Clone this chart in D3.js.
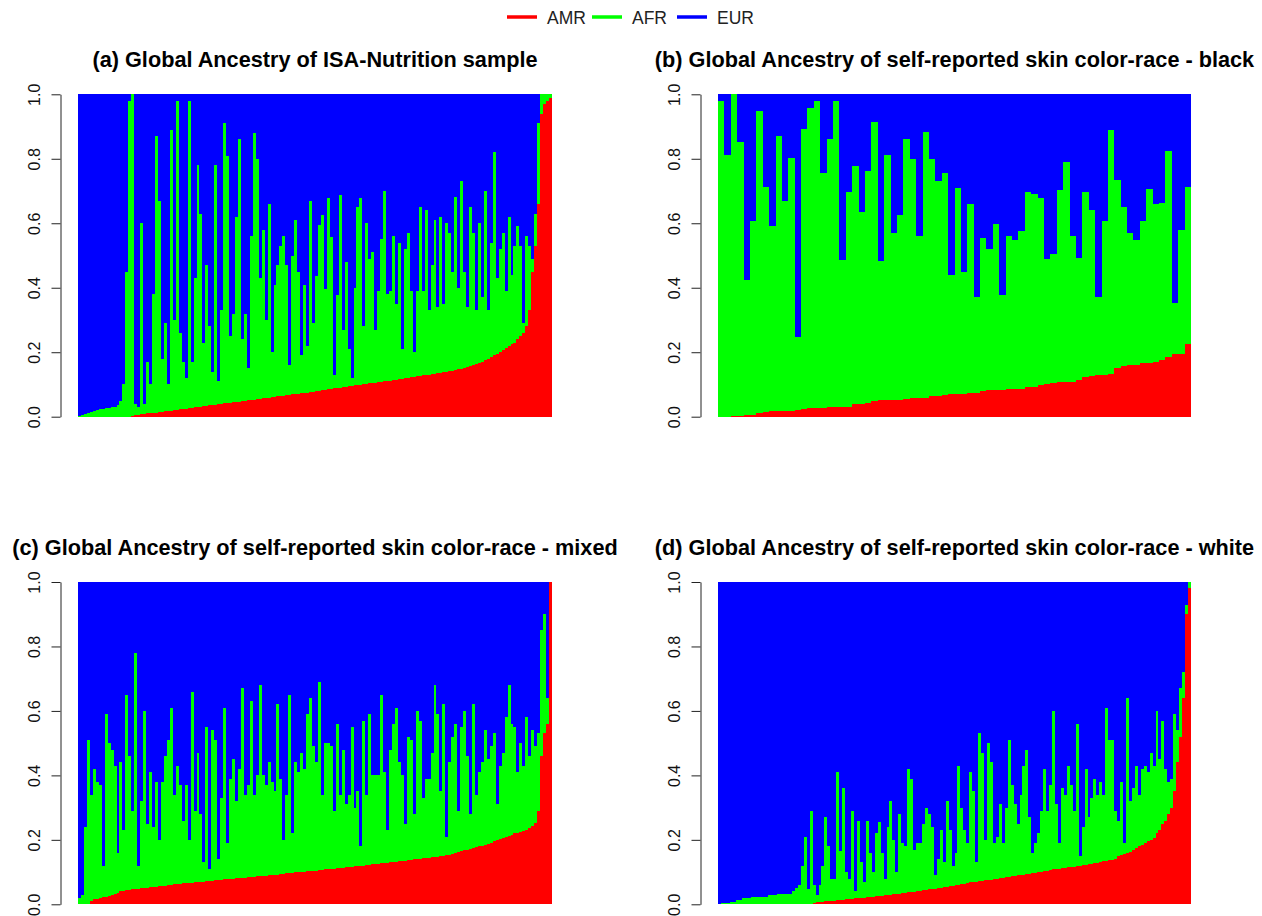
<!DOCTYPE html>
<html>
<head>
<meta charset="utf-8">
<script src="https://cdn.jsdelivr.net/npm/d3@7"></script>
<style>
  body { margin: 0; background: #fff; }
  svg { display: block; }
  text { font-family: "Liberation Sans", Arial, sans-serif; }
</style>
</head>
<body>
<div id="chart"></div>
<script>
// ancestry components, bottom to top of each bar
const ancestries = ['AMR', 'AFR', 'EUR'];
const ancestryColors = ['#ff0000', '#00ff00', '#0000ff'];
const yTicks = [0, 0.2, 0.4, 0.6, 0.8, 1.0];

// (a) whole sample, one bar per group of individuals, sorted by AMR
const amrA = [
  0, 0, 0, 0, 0, 0, 0, 0, 0, 0,
  0, 0, 0, 0, 0, 0, 0, 0, 0.003, 0.004,
  0.005, 0.007, 0.008, 0.010, 0.011, 0.012, 0.013, 0.015, 0.016, 0.017,
  0.018, 0.019, 0.020, 0.022, 0.023, 0.024, 0.025, 0.027, 0.028, 0.029,
  0.030, 0.031, 0.033, 0.034, 0.035, 0.036, 0.037, 0.039, 0.040, 0.041,
  0.042, 0.044, 0.045, 0.046, 0.047, 0.048, 0.050, 0.051, 0.052, 0.053,
  0.054, 0.056, 0.057, 0.058, 0.059, 0.060, 0.062, 0.063, 0.064, 0.065,
  0.066, 0.068, 0.069, 0.070, 0.071, 0.073, 0.074, 0.075, 0.076, 0.077,
  0.079, 0.080, 0.082, 0.084, 0.085, 0.087, 0.088, 0.089, 0.090, 0.091,
  0.093, 0.094, 0.096, 0.097, 0.098, 0.099, 0.101, 0.102, 0.104, 0.105,
  0.106, 0.108, 0.109, 0.110, 0.111, 0.112, 0.114, 0.115, 0.116, 0.118,
  0.119, 0.120, 0.122, 0.124, 0.125, 0.126, 0.128, 0.129, 0.130, 0.132,
  0.133, 0.135, 0.136, 0.138, 0.140, 0.141, 0.143, 0.145, 0.147, 0.149,
  0.151, 0.153, 0.156, 0.159, 0.163, 0.167, 0.171, 0.175, 0.180, 0.185,
  0.190, 0.195, 0.200, 0.206, 0.212, 0.218, 0.224, 0.230, 0.240, 0.250,
  0.260, 0.280, 0.330, 0.450, 0.530, 0.660, 0.940, 0.970, 0.980, 0.990
];
const afrA = [
  0.003, 0.005, 0.008, 0.011, 0.014, 0.019, 0.021, 0.023, 0.025, 0.026,
  0.028, 0.029, 0.031, 0.036, 0.050, 0.100, 0.450, 0.980, 0.997, 0.036,
  0.025, 0.593, 0.032, 0.160, 0.089, 0.368, 0.857, 0.655, 0.164, 0.273,
  0.082, 0.871, 0.280, 0.958, 0.237, 0.146, 0.095, 0.953, 0.142, 0.401,
  0.750, 0.599, 0.197, 0.436, 0.245, 0.104, 0.743, 0.071, 0.290, 0.869,
  0.768, 0.206, 0.275, 0.574, 0.813, 0.192, 0.270, 0.099, 0.508, 0.827,
  0.746, 0.374, 0.523, 0.242, 0.601, 0.140, 0.348, 0.407, 0.466, 0.495,
  0.404, 0.092, 0.431, 0.540, 0.379, 0.117, 0.336, 0.145, 0.594, 0.213,
  0.357, 0.516, 0.545, 0.313, 0.592, 0.471, 0.040, 0.289, 0.598, 0.177,
  0.386, 0.115, 0.023, 0.302, 0.551, 0.580, 0.179, 0.498, 0.386, 0.405,
  0.164, 0.282, 0.441, 0.590, 0.269, 0.278, 0.446, 0.235, 0.424, 0.092,
  0.401, 0.450, 0.268, 0.076, 0.265, 0.524, 0.262, 0.511, 0.200, 0.338,
  0.477, 0.205, 0.484, 0.212, 0.460, 0.429, 0.307, 0.535, 0.253, 0.581,
  0.299, 0.187, 0.494, 0.411, 0.167, 0.433, 0.199, 0.525, 0.150, 0.355,
  0.630, 0.235, 0.320, 0.364, 0.178, 0.402, 0.216, 0.300, 0.350, 0.280,
  0.030, 0.280, 0.200, 0.040, 0.100, 0.250, 0.060, 0.030, 0.020, 0.010
];

// (b) self-reported black
const amrB = [
  0, 0, 0.002, 0.002, 0.006, 0.006, 0.010, 0.015, 0.018, 0.018,
  0.018, 0.018, 0.021, 0.025, 0.028, 0.028, 0.028, 0.031, 0.031, 0.031,
  0.031, 0.038, 0.038, 0.043, 0.049, 0.052, 0.052, 0.052, 0.052, 0.055,
  0.059, 0.059, 0.059, 0.063, 0.063, 0.066, 0.070, 0.070, 0.070, 0.074,
  0.074, 0.080, 0.084, 0.084, 0.084, 0.087, 0.087, 0.087, 0.091, 0.091,
  0.098, 0.102, 0.104, 0.108, 0.108, 0.108, 0.115, 0.122, 0.127, 0.130,
  0.130, 0.133, 0.152, 0.157, 0.161, 0.161, 0.167, 0.167, 0.171, 0.177,
  0.186, 0.196, 0.196, 0.227
];
const afrB = [
  0.980, 0.811, 0.998, 0.849, 0.419, 0.600, 0.938, 0.696, 0.575, 0.854,
  0.652, 0.784, 0.227, 0.868, 0.931, 0.951, 0.729, 0.830, 0.948, 0.454,
  0.665, 0.739, 0.596, 0.718, 0.864, 0.430, 0.759, 0.519, 0.575, 0.806,
  0.739, 0.500, 0.823, 0.737, 0.667, 0.691, 0.370, 0.638, 0.380, 0.585,
  0.296, 0.473, 0.435, 0.515, 0.293, 0.475, 0.460, 0.488, 0.605, 0.599,
  0.579, 0.386, 0.402, 0.594, 0.681, 0.451, 0.377, 0.574, 0.515, 0.240,
  0.476, 0.756, 0.581, 0.492, 0.410, 0.387, 0.439, 0.538, 0.488, 0.485,
  0.637, 0.156, 0.382, 0.487
];

// (c) self-reported mixed
const amrC = [
  0, 0, 0, 0.002, 0.010, 0.015, 0.017, 0.018, 0.022, 0.024,
  0.027, 0.029, 0.033, 0.036, 0.040, 0.042, 0.044, 0.045, 0.046, 0.047,
  0.048, 0.050, 0.051, 0.052, 0.053, 0.054, 0.055, 0.056, 0.057, 0.058,
  0.059, 0.061, 0.062, 0.063, 0.064, 0.065, 0.066, 0.066, 0.067, 0.068,
  0.069, 0.070, 0.070, 0.071, 0.072, 0.073, 0.074, 0.075, 0.076, 0.078,
  0.078, 0.079, 0.080, 0.081, 0.082, 0.082, 0.083, 0.084, 0.085, 0.086,
  0.087, 0.088, 0.088, 0.089, 0.090, 0.091, 0.091, 0.092, 0.093, 0.094,
  0.096, 0.097, 0.098, 0.100, 0.100, 0.101, 0.101, 0.102, 0.103, 0.103,
  0.104, 0.105, 0.107, 0.108, 0.109, 0.110, 0.111, 0.112, 0.113, 0.114,
  0.115, 0.116, 0.117, 0.118, 0.119, 0.120, 0.120, 0.121, 0.122, 0.124,
  0.125, 0.126, 0.127, 0.128, 0.129, 0.130, 0.131, 0.132, 0.133, 0.134,
  0.135, 0.137, 0.138, 0.140, 0.141, 0.142, 0.143, 0.144, 0.145, 0.146,
  0.147, 0.148, 0.149, 0.150, 0.152, 0.153, 0.155, 0.158, 0.162, 0.165,
  0.167, 0.169, 0.172, 0.175, 0.177, 0.180, 0.182, 0.185, 0.187, 0.190,
  0.195, 0.200, 0.203, 0.206, 0.209, 0.212, 0.216, 0.220, 0.222, 0.225,
  0.227, 0.232, 0.237, 0.244, 0.253, 0.290, 0.460, 0.530, 0.560, 1.000
];
const afrC = [
  0.020, 0.030, 0.240, 0.508, 0.330, 0.405, 0.363, 0.352, 0.098, 0.566,
  0.473, 0.451, 0.397, 0.124, 0.400, 0.188, 0.606, 0.415, 0.244, 0.733,
  0.072, 0.270, 0.549, 0.198, 0.357, 0.186, 0.325, 0.144, 0.323, 0.402,
  0.451, 0.549, 0.278, 0.367, 0.306, 0.195, 0.304, 0.134, 0.593, 0.222,
  0.401, 0.210, 0.060, 0.479, 0.038, 0.467, 0.436, 0.065, 0.254, 0.532,
  0.112, 0.311, 0.370, 0.239, 0.338, 0.588, 0.257, 0.286, 0.545, 0.254,
  0.313, 0.592, 0.312, 0.281, 0.350, 0.289, 0.259, 0.528, 0.297, 0.106,
  0.244, 0.553, 0.122, 0.340, 0.310, 0.369, 0.319, 0.488, 0.537, 0.387,
  0.336, 0.585, 0.233, 0.392, 0.391, 0.380, 0.179, 0.448, 0.227, 0.366,
  0.195, 0.224, 0.433, 0.182, 0.231, 0.060, 0.450, 0.219, 0.468, 0.276,
  0.275, 0.274, 0.523, 0.282, 0.101, 0.350, 0.429, 0.478, 0.307, 0.266,
  0.115, 0.383, 0.372, 0.140, 0.459, 0.428, 0.187, 0.246, 0.245, 0.324,
  0.533, 0.442, 0.201, 0.470, 0.058, 0.287, 0.365, 0.402, 0.128, 0.385,
  0.433, 0.291, 0.108, 0.445, 0.163, 0.230, 0.258, 0.355, 0.263, 0.300,
  0.335, 0.110, 0.227, 0.264, 0.371, 0.468, 0.344, 0.330, 0.188, 0.275,
  0.203, 0.348, 0.223, 0.296, 0.237, 0.240, 0.390, 0.370, 0.080, 0.000
];

// (d) self-reported white
const amrD = [
  0, 0, 0, 0, 0, 0, 0, 0, 0, 0,
  0, 0, 0, 0, 0, 0, 0, 0, 0, 0,
  0, 0, 0, 0, 0, 0, 0, 0, 0, 0,
  0, 0.002, 0.005, 0.006, 0.007, 0.008, 0.009, 0.010, 0.010, 0.011,
  0.012, 0.013, 0.014, 0.015, 0.016, 0.017, 0.018, 0.019, 0.020, 0.021,
  0.022, 0.023, 0.024, 0.025, 0.026, 0.027, 0.028, 0.029, 0.030, 0.031,
  0.032, 0.033, 0.034, 0.036, 0.037, 0.038, 0.039, 0.040, 0.041, 0.043,
  0.044, 0.046, 0.047, 0.049, 0.050, 0.052, 0.053, 0.055, 0.057, 0.058,
  0.060, 0.061, 0.063, 0.064, 0.066, 0.068, 0.069, 0.070, 0.072, 0.073,
  0.074, 0.075, 0.076, 0.078, 0.079, 0.081, 0.082, 0.084, 0.085, 0.087,
  0.088, 0.090, 0.091, 0.092, 0.094, 0.095, 0.096, 0.097, 0.099, 0.100,
  0.102, 0.104, 0.106, 0.108, 0.110, 0.111, 0.112, 0.114, 0.115, 0.116,
  0.117, 0.119, 0.120, 0.121, 0.123, 0.124, 0.126, 0.127, 0.129, 0.131,
  0.133, 0.135, 0.137, 0.139, 0.141, 0.150, 0.152, 0.155, 0.158, 0.162,
  0.167, 0.175, 0.180, 0.185, 0.190, 0.195, 0.200, 0.205, 0.220, 0.230,
  0.250, 0.260, 0.280, 0.300, 0.350, 0.440, 0.520, 0.640, 0.900, 0.980
];
const afrD = [
  0.002, 0.005, 0.005, 0.005, 0.008, 0.008, 0.013, 0.013, 0.018, 0.018,
  0.018, 0.022, 0.022, 0.022, 0.022, 0.024, 0.024, 0.028, 0.028, 0.028,
  0.031, 0.031, 0.031, 0.031, 0.031, 0.041, 0.052, 0.060, 0.120, 0.210,
  0.047, 0.288, 0.055, 0.024, 0.053, 0.112, 0.261, 0.170, 0.070, 0.069,
  0.398, 0.152, 0.346, 0.085, 0.064, 0.273, 0.022, 0.241, 0.110, 0.049,
  0.238, 0.137, 0.076, 0.195, 0.229, 0.133, 0.052, 0.211, 0.290, 0.169,
  0.068, 0.247, 0.156, 0.144, 0.383, 0.352, 0.131, 0.150, 0.149, 0.207,
  0.256, 0.234, 0.193, 0.041, 0.090, 0.178, 0.077, 0.265, 0.173, 0.062,
  0.100, 0.369, 0.237, 0.166, 0.124, 0.342, 0.281, 0.060, 0.458, 0.397,
  0.126, 0.425, 0.364, 0.112, 0.131, 0.229, 0.108, 0.216, 0.425, 0.283,
  0.222, 0.160, 0.249, 0.338, 0.386, 0.175, 0.064, 0.093, 0.121, 0.190,
  0.318, 0.186, 0.264, 0.492, 0.200, 0.079, 0.248, 0.226, 0.315, 0.254,
  0.173, 0.441, 0.030, 0.119, 0.297, 0.146, 0.204, 0.263, 0.211, 0.249,
  0.207, 0.475, 0.373, 0.371, 0.149, 0.110, 0.228, 0.035, 0.482, 0.158,
  0.193, 0.255, 0.160, 0.235, 0.240, 0.215, 0.270, 0.225, 0.380, 0.220,
  0.320, 0.160, 0.100, 0.090, 0.240, 0.100, 0.150, 0.080, 0.030, 0.020
];

const panelTitles = [
  '(a) Global Ancestry of ISA-Nutrition sample',
  '(b) Global Ancestry of self-reported skin color-race - black',
  '(c) Global Ancestry of self-reported skin color-race - mixed',
  '(d) Global Ancestry of self-reported skin color-race - white'
];

const width = 1262;
const height = 916;

const svg = d3.select('#chart')
  .append('svg')
  .attr('width', width)
  .attr('height', height);

// plot regions of the 2x2 grid
const panels = [
  { title: panelTitles[0], amr: amrA, afr: afrA, x0: 78, x1: 552, top: 94.3, bottom: 416.7, axisX: 60.5 },
  { title: panelTitles[1], amr: amrB, afr: afrB, x0: 718, x1: 1191, top: 94.3, bottom: 416.7, axisX: 700.5 },
  { title: panelTitles[2], amr: amrC, afr: afrC, x0: 78, x1: 552, top: 582, bottom: 904.3, axisX: 60.5 },
  { title: panelTitles[3], amr: amrD, afr: afrD, x0: 718, x1: 1191, top: 582, bottom: 904.3, axisX: 700.5 }
];

const drawPanel = (p) => {
  const rows = p.amr.map((v, i) => ({
    AMR: v,
    AFR: p.afr[i],
    EUR: Math.max(0, 1 - v - p.afr[i])
  }));

  const x = d3.scaleBand()
    .domain(d3.range(rows.length))
    .range([p.x0, p.x1])
    .padding(0);

  const y = d3.scaleLinear()
    .domain([0, 1])
    .range([p.bottom, p.top]);

  const series = d3.stack().keys(ancestries)(rows);

  svg.append('g')
    .attr('shape-rendering', 'crispEdges')
    .selectAll('g')
    .data(series)
    .enter()
    .append('g')
    .style('fill', (d, i) => ancestryColors[i])
    .selectAll('rect')
    .data((d) => d)
    .enter()
    .append('rect')
    .attr('x', (d, i) => x(i))
    .attr('width', x.bandwidth())
    .attr('y', (d) => y(Math.min(1, d[1])))
    .attr('height', (d) => Math.max(0, y(d[0]) - y(Math.min(1, d[1]))));

  const axis = svg.append('g')
    .attr('transform', `translate(${p.axisX},0)`)
    .call(d3.axisLeft(y)
      .tickValues(yTicks)
      .tickFormat(d3.format('.1f'))
      .tickSize(9)
      .tickSizeOuter(0));

  axis.select('.domain').attr('stroke', '#222');
  axis.selectAll('.tick line').attr('stroke', '#222');
  axis.selectAll('.tick text')
    .attr('fill', '#111')
    .style('font-size', '16px')
    .attr('text-anchor', 'middle')
    .attr('x', 0)
    .attr('y', -21)
    .attr('dy', 0)
    .attr('transform', 'rotate(-90)');

  svg.append('text')
    .attr('x', (p.x0 + p.x1) / 2)
    .attr('y', p.top - 27)
    .attr('text-anchor', 'middle')
    .style('font-weight', 'bold')
    .style('font-size', '21.7px')
    .style('fill', '#000')
    .text(p.title);
};

panels.forEach(drawPanel);

// legend across the top
const legendX = [507, 592, 677];
const legend = svg.append('g');
ancestries.forEach((name, i) => {
  legend.append('line')
    .attr('x1', legendX[i])
    .attr('x2', legendX[i] + 30)
    .attr('y1', 17)
    .attr('y2', 17)
    .attr('stroke', ancestryColors[i])
    .attr('stroke-width', 3.5);
  legend.append('text')
    .attr('x', legendX[i] + 40)
    .attr('y', 24)
    .style('font-size', '17.5px')
    .style('fill', '#222')
    .text(name);
});
</script>
</body>
</html>
